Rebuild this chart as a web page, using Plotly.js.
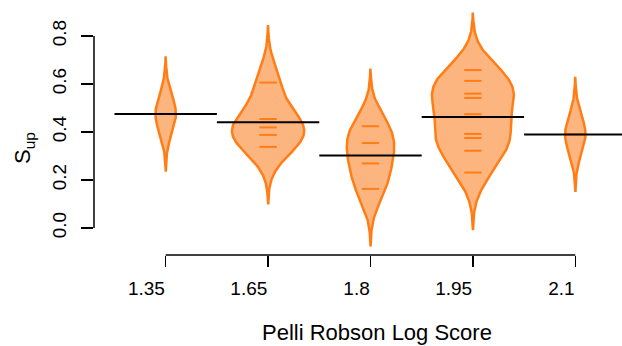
<!DOCTYPE html>
<html>
<head>
<meta charset="utf-8">
<script src="https://cdn.plot.ly/plotly-3.0.1.min.js"></script>
<style>html,body{margin:0;padding:0;background:#fff;}#chart{width:622px;height:346px;}</style>
</head>
<body>
<div id="chart"></div>
<script>
// ---- data ----
const categories = ["1.35", "1.65", "1.8", "1.95", "2.1"];
const sup135 = [0.475];
const sup165 = [0.606, 0.454, 0.419, 0.388, 0.338];
const sup180 = [0.424, 0.354, 0.269, 0.163];
const sup195 = [0.658, 0.613, 0.560, 0.542, 0.474, 0.392, 0.375, 0.322, 0.231];
const sup210 = [0.390];
const yTickVals = [0, 0.2, 0.4, 0.6, 0.8];
const yTickText = ["0.0", "0.2", "0.4", "0.6", "0.8"];
const xTitle = "Pelli Robson Log Score";
const yTitle = "S<sub>up</sub>";

// ---- bean plot construction ----
const groups = [sup135, sup165, sup180, sup195, sup210];
const bw = 0.08;          // gaussian kernel bandwidth
const cut = 3;            // density extends cut*bw beyond data
const maxHalfWidth = 0.4; // beanplot maxwidth 0.8
const beanLineHalf = 0.085;
const fillCol = "rgb(253,181,128)";
const lineCol = "rgb(255,125,20)";

function dens(vals, y) {
  let s = 0;
  for (const v of vals) { const u = (y - v) / bw; s += Math.exp(-0.5 * u * u); }
  return s / (bw * Math.sqrt(2 * Math.PI)); // n * density
}
const grids = groups.map(vals => {
  const lo = Math.min(...vals) - cut * bw, hi = Math.max(...vals) + cut * bw;
  const N = 200, ys = [], ds = [];
  for (let k = 0; k <= N; k++) { const y = lo + (hi - lo) * k / N; ys.push(y); ds.push(dens(vals, y)); }
  return {ys, ds};
});
const globalMax = Math.max(...grids.map(g => Math.max(...g.ds)));
const scale = maxHalfWidth / globalMax;

const traces = [];
groups.forEach((vals, i) => {
  const c = i + 1, g = grids[i];
  const xs = [], ys = [];
  for (let k = 0; k < g.ys.length; k++) { xs.push(c + g.ds[k] * scale); ys.push(g.ys[k]); }
  for (let k = g.ys.length - 1; k >= 0; k--) { xs.push(c - g.ds[k] * scale); ys.push(g.ys[k]); }
  xs.push(xs[0]); ys.push(ys[0]);
  traces.push({type: "scatter", mode: "lines", x: xs, y: ys, fill: "toself",
    fillcolor: fillCol, line: {color: lineCol, width: 2.5}, hoverinfo: "skip"});
});
// bean lines (one per observation)
groups.forEach((vals, i) => {
  const c = i + 1, xs = [], ys = [];
  vals.forEach(v => { xs.push(c - beanLineHalf, c + beanLineHalf, null); ys.push(v, v, null); });
  traces.push({type: "scatter", mode: "lines", x: xs, y: ys,
    line: {color: lineCol, width: 2}, hoverinfo: "skip"});
});
// mean lines
{
  const xs = [], ys = [];
  groups.forEach((vals, i) => {
    const m = vals.reduce((a, b) => a + b, 0) / vals.length;
    xs.push(i + 0.5, i + 1.5, null); ys.push(m, m, null);
  });
  traces.push({type: "scatter", mode: "lines", x: xs, y: ys,
    line: {color: "black", width: 2}, hoverinfo: "skip"});
}

const font = "Liberation Sans, Arial, sans-serif";
const layout = {
  width: 622, height: 346,
  margin: {l: 94, r: 0, t: 0, b: 91, pad: 0},
  paper_bgcolor: "white", plot_bgcolor: "white",
  showlegend: false,
  font: {family: font, color: "black", size: 19},
  xaxis: {
    range: [0.3, 5.456], tickmode: "array",
    tickvals: categories.map((_, i) => i + 1), ticktext: categories,
    ticks: "outside", ticklen: 11, tickwidth: 1.5, tickcolor: "black",
    ticklabelposition: "outside left", ticklabelstandoff: 16,
    showgrid: false, zeroline: false, showline: false,
    tickfont: {family: font, size: 19, color: "black"}
  },
  yaxis: {
    range: [-0.1125, 0.95], tickmode: "array",
    tickvals: yTickVals, ticktext: yTickText,
    ticks: "outside", ticklen: 12, tickwidth: 1.5, tickcolor: "black",
    tickangle: -90, ticklabelstandoff: 7,
    showgrid: false, zeroline: false, showline: false,
    tickfont: {family: font, size: 19, color: "black"}
  },
  shapes: [
    {type: "line", xref: "paper", yref: "y", x0: 0, x1: 0, y0: yTickVals[0], y1: yTickVals[yTickVals.length - 1],
     line: {color: "black", width: 1.5}},
    {type: "line", xref: "x", yref: "paper", x0: 1, x1: categories.length, y0: 0, y1: 0,
     line: {color: "black", width: 1.5}}
  ],
  annotations: [
    {text: xTitle, xref: "paper", yref: "paper", x: (377 - 94) / 528, y: (255 - 332) / 255,
     xanchor: "center", yanchor: "middle", showarrow: false, font: {family: font, size: 22, color: "black"}},
    {text: yTitle, xref: "paper", yref: "paper", x: (24 - 94) / 528, y: (255 - 148) / 255,
     xanchor: "center", yanchor: "middle", textangle: -90, showarrow: false,
     font: {family: font, size: 22, color: "black"}}
  ]
};
Plotly.newPlot("chart", traces, layout, {staticPlot: true, displayModeBar: false});
</script>
</body>
</html>
